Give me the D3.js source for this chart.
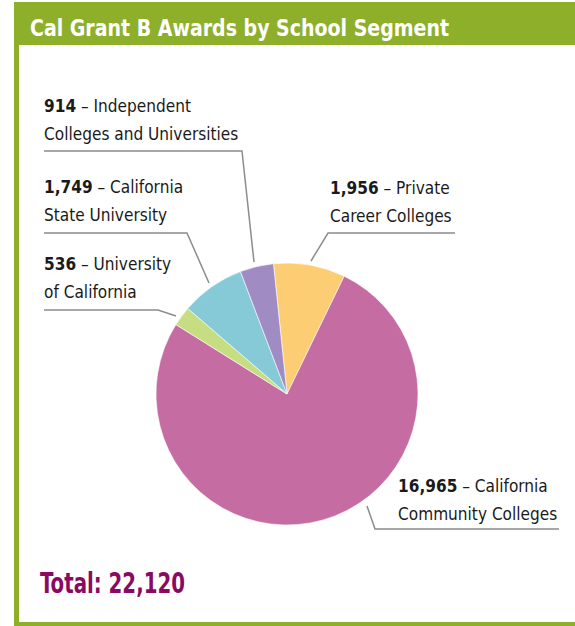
<!DOCTYPE html>
<html>
    <head>
        <meta charset="utf-8">
        <title></title>
        <style>
            body { margin: 0; background: #fff; }
            svg text { font-family: "Liberation Sans Narrow", "DejaVu Sans Condensed", "Roboto Condensed", sans-serif; font-stretch: condensed; }
            svg .title { fill: #fff; font-weight: bold; font-size: 23.5px; }
            svg .lbl { fill: #1a1a1a; font-size: 18px; }
            svg .lbl .num { font-weight: bold; }
            svg .leader { fill: none; stroke: #8c8c8c; stroke-width: 1.5; }
            svg .total { fill: #8a0a62; font-weight: bold; font-size: 29px; }
        </style>
    </head>
    <body>
        <svg class='drawing'></svg>

        <script src="https://d3js.org/d3.v7.min.js" charset="utf-8"></script>
        <script>
            var w = 575;
            var h = 626;

            // pie order is clockwise from the top
            var segments = ['Private Career Colleges', 'California Community Colleges', 'University of California',
                'California State University', 'Independent Colleges and Universities'];
            var awards = [1956, 16965, 536, 1749, 914];
            var colors = ['#fdcd73', '#c56ca2', '#c6dd82', '#86cad8', '#a08bc2'];
            var labelLines = [
                ['Private', 'Career Colleges'],
                ['California', 'Community Colleges'],
                ['University', 'of California'],
                ['California', 'State University'],
                ['Independent', 'Colleges and Universities']
            ];
            var title = 'Cal Grant B Awards by School Segment';
            var total = d3.sum(awards);

            var fmt = d3.format(',');
            var green = '#8eaf2a';

            var svg = d3.select('.drawing')
                .attr('width', w)
                .attr('height', h);

            // frame
            svg.append('rect').attr('x', 14).attr('y', 2).attr('width', w - 14).attr('height', 43).attr('fill', green);
            svg.append('rect').attr('x', 14).attr('y', 45).attr('width', 5).attr('height', h - 45).attr('fill', green);
            svg.append('rect').attr('x', 14).attr('y', 622).attr('width', w - 14).attr('height', 4).attr('fill', green);

            svg.append('text')
                .attr('class', 'title')
                .attr('x', 30)
                .attr('y', 36)
                .attr('textLength', 419)
                .attr('lengthAdjust', 'spacingAndGlyphs')
                .text(title);

            var cx = 287, cy = 394, r = 131;
            var pinkStart = 25.9 * Math.PI / 180;
            var start = pinkStart - awards[0] / total * 2 * Math.PI;

            var pie = d3.pie().sort(null).startAngle(start).endAngle(start + 2 * Math.PI);
            var arc = d3.arc().innerRadius(0).outerRadius(r);

            var g = svg.append('g').attr('transform', 'translate(' + cx + ',' + cy + ')');
            g.selectAll('path')
                .data(pie(awards))
                .enter()
                    .append('path')
                    .attr('d', arc)
                    .attr('fill', (d, i) => colors[i])
                    .attr('stroke', '#fff')
                    .attr('stroke-width', 0.6);

            // label placement per segment: text origin, and leader polyline
            var labelPos = [
                { x: 330, y: 194, line: [[455, 233], [328, 233], [311, 261]] },
                { x: 398, y: 492, line: [[367, 506], [375, 529], [559, 529]] },
                { x: 44, y: 270, line: [[44, 310], [158, 310], [176, 316]] },
                { x: 44, y: 193, line: [[44, 233], [187, 233], [209, 283]] },
                { x: 44, y: 112, line: [[44, 151], [242, 151], [254, 262]] }
            ];

            svg.selectAll('.leader')
                .data(labelPos)
                .enter()
                    .append('polyline')
                    .attr('class', 'leader')
                    .attr('points', d => d.line.join(' '));

            // the fallback condensed font runs a little wide, so squeeze it
            var lbl = svg.selectAll('.lbl')
                .data(awards)
                .enter()
                    .append('text')
                    .attr('class', 'lbl')
                    .attr('transform', (d, i) => 'translate(' + labelPos[i].x + ',' + labelPos[i].y + ') scale(0.95,1)');
            lbl.append('tspan').attr('class', 'num').text(d => fmt(d));
            lbl.append('tspan').text((d, i) => ' \u2013 ' + labelLines[i][0]);
            lbl.append('tspan')
                .attr('x', 0)
                .attr('dy', 28.5)
                .text((d, i) => labelLines[i][1]);

            svg.append('text')
                .attr('class', 'total')
                .attr('x', 40)
                .attr('y', 593)
                .attr('textLength', 145)
                .attr('lengthAdjust', 'spacingAndGlyphs')
                .text('Total: ' + fmt(total));
        </script>
    </body>
</html>
